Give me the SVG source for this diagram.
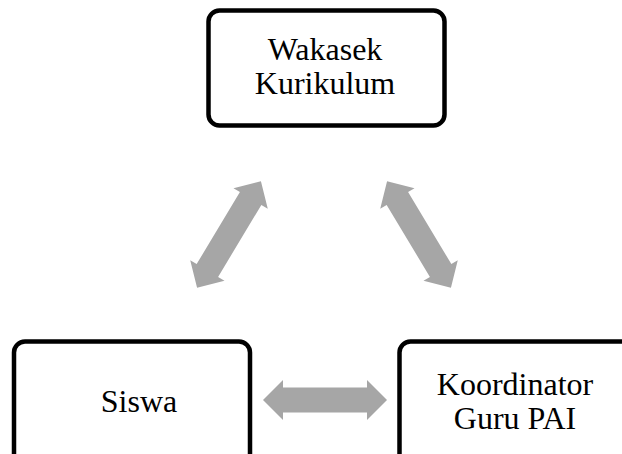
<svg xmlns="http://www.w3.org/2000/svg" width="622" height="454" viewBox="0 0 622 454">
<style>
.box{fill:#fff;stroke:#000;stroke-width:4.5}
text{font-family:'Liberation Serif','Times New Roman',serif;font-size:32px;fill:#000;text-anchor:middle}
.arr{fill:#A6A6A6}
</style>
<defs>
<path id="dbl" d="M-62 0 L-42 -20 L-42 -12.5 L42 -12.5 L42 -20 L62 0 L42 20 L42 12.5 L-42 12.5 L-42 20 Z"/>
</defs>
<rect width="622" height="454" fill="#fff"/>
<g id="connectors" class="arr">
<use href="#dbl" transform="translate(229 234.5) rotate(-59)"/>
<use href="#dbl" transform="translate(419 234.5) rotate(59)"/>
<use href="#dbl" transform="translate(325 400)"/>
</g>
<g id="wakasek">
<rect class="box" x="208.5" y="10.5" width="236" height="115" rx="11"/>
<text x="325" y="60">Wakasek</text>
<text x="325" y="94">Kurikulum</text>
</g>
<g id="siswa">
<rect class="box" x="14" y="341.5" width="236" height="130" rx="11"/>
<text x="139" y="412">Siswa</text>
</g>
<g id="koordinator">
<rect class="box" x="399.5" y="341.5" width="236" height="130" rx="11"/>
<text x="515" y="395">Koordinator</text>
<text x="515" y="429">Guru PAI</text>
</g>
</svg>
